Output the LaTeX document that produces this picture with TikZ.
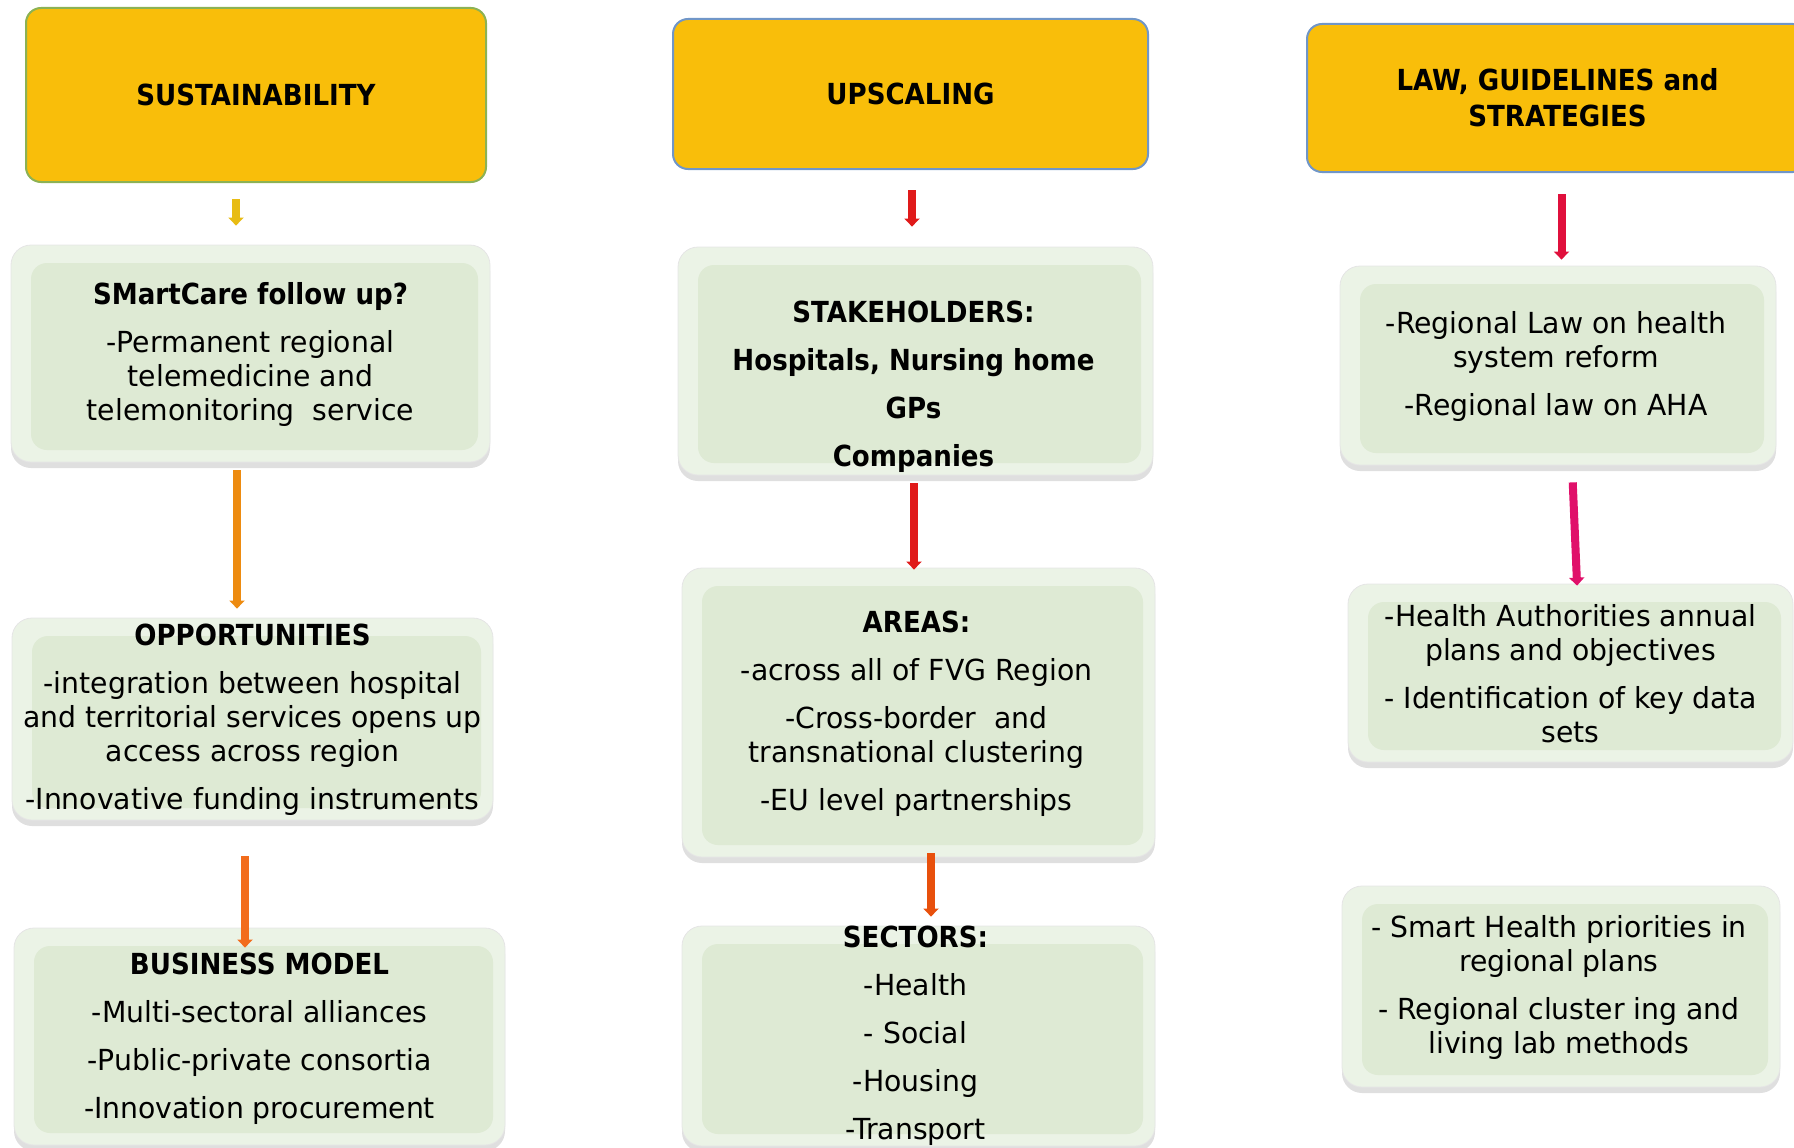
\documentclass[tikz,border=0pt]{standalone}
\usepackage{fontspec}
\setmainfont{DejaVu Sans}[FakeStretch=0.975, BoldFeatures={FakeStretch=0.9}]
\usetikzlibrary{arrows.meta,shadows}
\definecolor{hh}{RGB}{249, 190, 10}
\definecolor{hg}{RGB}{140, 178, 84}
\definecolor{hb}{RGB}{112, 150, 200}
\definecolor{bx}{RGB}{222, 234, 212}
\definecolor{br}{RGB}{235, 243, 230}
\definecolor{a1}{RGB}{232, 188, 20}
\definecolor{a2}{RGB}{237, 139, 16}
\definecolor{a3}{RGB}{242, 108, 28}
\definecolor{b1}{RGB}{224, 26, 26}
\definecolor{b3}{RGB}{232, 80, 12}
\definecolor{c1}{RGB}{224, 16, 60}
\definecolor{c2}{RGB}{224, 16, 106}

\begin{document}
\begin{tikzpicture}[x=1pt, y=-1pt,
  head/.style={rounded corners=15pt, fill=hh, line width=2pt, align=center,
    font=\fontsize{29}{36}\selectfont\bfseries},
  box/.style={rounded corners=20pt, fill=br, draw=black!10, line width=0.8pt,
    drop shadow={opacity=0.25, shadow xshift=0pt, shadow yshift=-6pt},
    path picture={\fill[bx, rounded corners=16pt]
      ([shift={(20pt,-18pt)}]path picture bounding box.north west) rectangle
      ([shift={(-12pt,12pt)}]path picture bounding box.south east);}},
  txt/.style={align=center, inner sep=0pt, font=\fontsize{29}{34}\selectfont},
  arr/.style={line width=8pt, -{Triangle[width=15pt,length=8pt]}}]
\clip (0,0) rectangle (1794,1148);
% headers
\node (1) [head, draw=hg, minimum width=460pt, minimum height=174pt] at (256, 95) {SUSTAINABILITY};
\node (5) [head, draw=hb, minimum width=475pt, minimum height=150pt] at (910.5, 94) {UPSCALING};
\node (9) [head, draw=hb, minimum width=501pt, minimum height=148pt] at (1557.5, 98) {LAW, GUIDELINES and\\STRATEGIES};
% boxes
\node (2) [box, minimum width=479pt, minimum height=217pt] at (250.5, 353.5) {};
\node (3) [box, minimum width=481pt, minimum height=202pt] at (252.5, 719) {};
\node (4) [box, minimum width=491pt, minimum height=217pt] at (259.5, 1036.5) {};
\node (6) [box, minimum width=475pt, minimum height=228pt] at (915.5, 361) {};
\node (7) [box, minimum width=473pt, minimum height=289pt] at (918.5, 712.5) {};
\node (8) [box, minimum width=473pt, minimum height=220pt] at (918.5, 1036) {};
\node (10) [box, minimum width=436pt, minimum height=199pt] at (1558, 365.5) {};
\node (11) [box, minimum width=445pt, minimum height=178pt] at (1570.5, 673) {};
\node (12) [box, minimum width=438pt, minimum height=201pt] at (1561, 986.5) {};
% texts
\node (2t) [txt] at ([yshift=-1pt]2.center) {\textbf{SMartCare follow up?}\\[14pt]-Permanent regional\\telemedicine and\\telemonitoring~~service};
\node (3t) [txt] at ([yshift=-1pt]3.center) {\textbf{OPPORTUNITIES}\\[14pt]-integration between hospital\\and territorial services opens up\\access across region\\[14pt]-Innovative funding instruments};
\node (4t) [txt] at ([yshift=-2pt]4.center) {\textbf{BUSINESS MODEL}\\[14pt]-Multi-sectoral alliances\\[14pt]-Public-private consortia\\[14pt]-Innovation procurement};
\node (6t) [txt] at ([xshift=-2pt, yshift=-26pt]6.center) {\textbf{STAKEHOLDERS:}\\[14pt]\textbf{Hospitals, Nursing home}\\[14pt]\textbf{GPs}\\[14pt]\textbf{Companies}};
\node (7t) [txt] at ([xshift=-2pt, yshift=-1pt]7.center) {\textbf{AREAS:}\\[14pt]-across all of FVG Region\\[14pt]-Cross-border~~and\\transnational clustering\\[14pt]-EU level partnerships};
\node (8t) [txt] at ([xshift=-3pt]8.center) {\textbf{SECTORS:}\\[14pt]-Health\\[14pt]-~Social\\[14pt]-Housing\\[14pt]-Transport};
\node (10t) [txt] at ([xshift=-2pt, yshift=-1pt]10.center) {-Regional Law on health\\system reform\\[14pt]-Regional law on AHA};
\node (11t) [txt] at ([yshift=-1pt]11.center) {-Health Authorities annual\\plans and objectives\\[14pt]-~Identification of key data\\sets};
\node (12t) [txt] at ([xshift=-2pt, yshift=-1pt]12.center) {-~Smart Health priorities in\\regional plans\\[14pt]-~Regional cluster ing and\\living lab methods};
% arrows
\draw [arr, color=a1, shorten <=16pt, shorten >=19pt] ([xshift=-20pt]1.south) to ([xshift=-14.5pt]2.north);
\draw [arr, color=a2, shorten <=8pt, shorten >=9pt] ([xshift=-13.5pt]2.south) to ([xshift=-15.5pt]3.north);
\draw [arr, color=a3, shorten <=36pt, shorten >=-20pt] ([xshift=-7.5pt]3.south) to ([xshift=-14.5pt]4.north);
\draw [arr, color=b1, shorten <=20pt, shorten >=20pt] ([xshift=1.5pt]5.south) to ([xshift=-3.5pt]6.north);
\draw [arr, color=b1, shorten <=8pt, shorten >=-2pt] ([xshift=-1.5pt]6.south) to ([xshift=-4.5pt]7.north);
\draw [arr, color=b3, shorten <=-4pt, shorten >=9pt] ([xshift=12.5pt]7.south) to ([xshift=12.5pt]8.north);
\draw [arr, color=c1, shorten <=21pt, shorten >=6pt] ([xshift=4pt]9.south) to ([xshift=3.5pt]10.north);
\draw [arr, color=c2, shorten <=17pt, shorten >=-2pt] ([xshift=14pt]10.south) to ([xshift=6.5pt]11.north);
\end{tikzpicture}
\end{document}
